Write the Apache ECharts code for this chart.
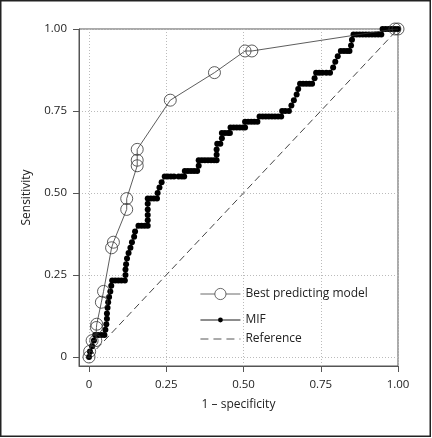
<!DOCTYPE html>
<html>
<head>
<meta charset="utf-8">
<script src="https://cdn.jsdelivr.net/npm/echarts@6/dist/echarts.min.js"></script>
<style>html,body{margin:0;padding:0;background:#fff;}#c{width:432px;height:438px;}</style>
</head>
<body>
<div id="c"></div>
<script>
const tickValues = [0, 0.25, 0.5, 0.75, 1];
const seriesNames = ['Best predicting model', 'MIF', 'Reference'];
const xTitle = '1 \u2013 specificity';
const yTitle = 'Sensitivity';

const bestX = [0, 0.002, 0.01, 0.022, 0.024, 0.025, 0.04, 0.047, 0.073, 0.079, 0.122, 0.122, 0.156, 0.156, 0.156, 0.263, 0.406, 0.505, 0.527, 0.99, 1];
const bestY = [0, 0.017, 0.05, 0.05, 0.09, 0.1, 0.167, 0.2, 0.333, 0.35, 0.45, 0.483, 0.583, 0.6, 0.633, 0.783, 0.867, 0.933, 0.933, 1, 1];

const mifX = [0,0.003,0.01,0.016,0.02,0.03,0.04,0.05,
0.053,0.056,0.058,0.058,0.06,0.062,0.065,0.069,0.072,0.075,
0.085,0.095,0.105,0.116,
0.118,0.118,0.12,0.123,0.128,0.134,0.139,0.146,0.149,0.16,
0.17,0.18,0.19,
0.19,0.19,0.19,0.19,0.19,
0.2,0.21,0.22,
0.222,0.228,0.235,0.245,
0.255,0.265,0.275,0.29,0.3,0.308,
0.31,0.32,0.33,0.34,0.35,
0.355,0.355,0.365,0.375,0.385,0.395,0.405,0.413,
0.413,0.413,0.415,0.425,
0.43,0.43,0.44,0.45,0.456,
0.458,0.468,0.478,0.488,0.498,0.505,
0.505,0.515,0.525,0.535,0.545,
0.552,0.562,0.572,0.582,0.592,0.602,0.612,0.622,
0.625,0.635,0.647,
0.655,0.663,0.672,0.677,0.683,
0.693,0.703,0.713,0.722,
0.73,0.735,0.745,0.755,0.768,0.78,
0.79,0.797,0.805,0.815,0.825,0.835,0.843,0.848,0.851,0.856,
0.866,0.876,0.886,0.896,0.906,0.916,0.926,0.936,0.946,
0.95,0.96,0.97,0.98,0.99,1];
const mifY = [0,0.017,0.033,0.05,0.067,0.067,0.067,0.067,
0.083,0.1,0.117,0.133,0.15,0.167,0.183,0.2,0.217,0.233,
0.233,0.233,0.233,0.233,
0.25,0.267,0.283,0.3,0.317,0.333,0.35,0.367,0.383,0.4,
0.4,0.4,0.4,
0.417,0.433,0.45,0.467,0.483,
0.483,0.483,0.483,
0.5,0.517,0.533,0.55,
0.55,0.55,0.55,0.55,0.55,0.55,
0.567,0.567,0.567,0.567,0.567,
0.583,0.6,0.6,0.6,0.6,0.6,0.6,0.6,
0.617,0.633,0.65,0.65,
0.667,0.683,0.683,0.683,0.683,
0.7,0.7,0.7,0.7,0.7,0.7,
0.717,0.717,0.717,0.717,0.717,
0.733,0.733,0.733,0.733,0.733,0.733,0.733,0.733,
0.75,0.75,0.75,
0.767,0.783,0.8,0.817,0.833,
0.833,0.833,0.833,0.833,
0.85,0.867,0.867,0.867,0.867,0.867,
0.883,0.9,0.917,0.933,0.933,0.933,0.933,0.95,0.967,0.983,
0.983,0.983,0.983,0.983,0.983,0.983,0.983,0.983,0.983,
1,1,1,1,1,1];

const refX = [0, 1];
const refY = [0, 1];

const zip = (a, b) => a.map((v, i) => [v, b[i]]);
const FONT = 'Open Sans';
const fmt = v => (v === 0 ? '0' : v.toFixed(2));

const chart = echarts.init(document.getElementById('c'), null, {renderer: 'canvas'});
const legendBase = {
  orient: 'vertical', left: 200, padding: 0, itemWidth: 40,
  textStyle: {fontFamily: FONT, fontSize: 12, color: '#222'},
  selectedMode: false
};
chart.setOption({
  animation: false,
  backgroundColor: '#fff',
  graphic: [{
    type: 'rect', silent: true, z: 100,
    shape: {x: 0.75, y: 0.75, width: 429.5, height: 435.5},
    style: {fill: 'none', stroke: '#222', lineWidth: 1.5}
  }],
  grid: {left: 79, right: 34, top: 29, bottom: 72, show: true, borderColor: '#555', borderWidth: 1, backgroundColor: 'transparent'},
  legend: [
    Object.assign({}, legendBase, {data: [seriesNames[0]], top: 288, itemHeight: 14,
      itemStyle: {color: '#fff', borderColor: '#444', borderWidth: 0.8}, lineStyle: {color: '#444', width: 0.8}}),
    Object.assign({}, legendBase, {data: [seriesNames[1]], top: 314, itemHeight: 6,
      itemStyle: {color: '#000', borderWidth: 0}, lineStyle: {color: '#000', width: 0.9}}),
    Object.assign({}, legendBase, {data: [seriesNames[2]], top: 333, itemHeight: 10,
      itemStyle: {opacity: 0}, lineStyle: {color: '#444', width: 0.9, type: [8, 5]}})
  ],
  xAxis: {
    type: 'value', min: -0.0324, max: 1,
    name: xTitle, nameLocation: 'middle', nameGap: 33,
    nameTextStyle: {fontFamily: FONT, fontSize: 12, color: '#222'},
    axisLine: {show: true, onZero: false, lineStyle: {color: '#555', width: 1}},
    axisTick: {show: true, length: 6, customValues: tickValues, lineStyle: {color: '#555'}},
    axisLabel: {customValues: tickValues, formatter: fmt, margin: 13, fontFamily: FONT, fontSize: 11.5, color: '#222'},
    splitLine: {show: true, lineStyle: {color: '#bbb', type: [1, 2], width: 1}}
  },
  yAxis: {
    type: 'value', min: -0.0274, max: 1,
    name: yTitle, nameLocation: 'middle', nameGap: 46, nameRotate: 90,
    nameTextStyle: {fontFamily: FONT, fontSize: 12, color: '#222'},
    axisLine: {show: true, onZero: false, lineStyle: {color: '#555', width: 1}},
    axisTick: {show: true, length: 6, customValues: tickValues, lineStyle: {color: '#555'}},
    axisLabel: {customValues: tickValues, formatter: fmt, margin: 12, fontFamily: FONT, fontSize: 11.5, color: '#222'},
    splitLine: {show: true, lineStyle: {color: '#bbb', type: [1, 2], width: 1}}
  },
  series: [
    {
      name: seriesNames[2], type: 'line', data: zip(refX, refY), symbol: 'none', z: 1,
      lineStyle: {color: '#444', width: 1, type: [7, 4]}
    },
    {
      name: seriesNames[0], type: 'line', data: zip(bestX, bestY), symbol: 'circle', symbolSize: 12, z: 3,
      lineStyle: {color: '#333', width: 0.8},
      itemStyle: {color: 'rgba(0,0,0,0)', borderColor: '#333', borderWidth: 0.8}
    },
    {
      name: seriesNames[1], type: 'line', data: zip(mifX, mifY), symbol: 'circle', symbolSize: 6, z: 2,
      lineStyle: {color: '#000', width: 1},
      itemStyle: {color: '#000'}
    }
  ]
});
</script>
</body>
</html>
